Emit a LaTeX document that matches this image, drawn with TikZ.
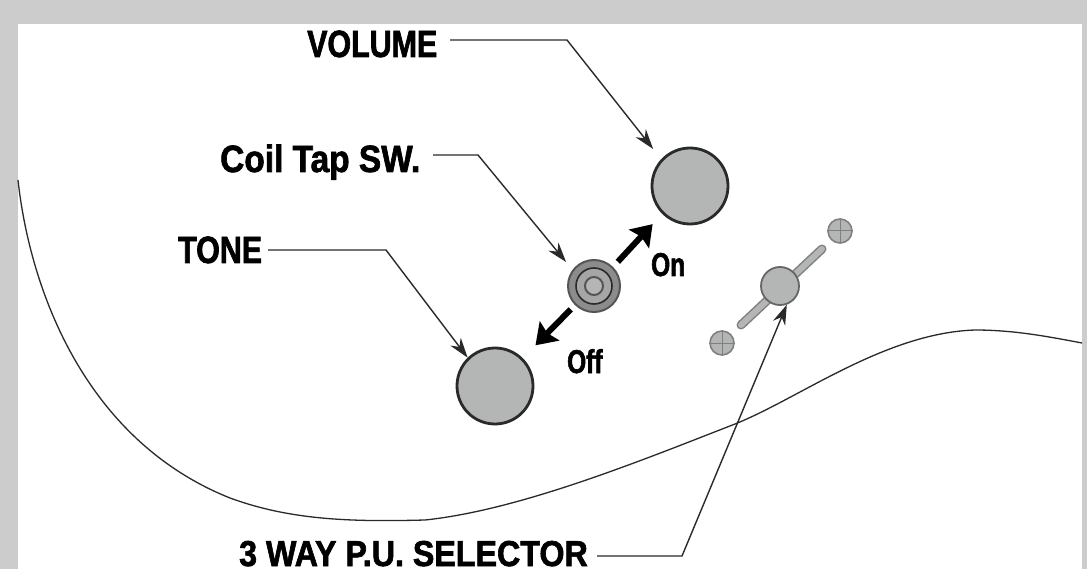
\documentclass[tikz,border=0pt]{standalone}
\usepackage{fontspec}
\setmainfont{Liberation Sans}
\newfontfamily\condfont[FakeStretch=0.80,FakeBold=1.7]{Liberation Sans Bold}
\newfontfamily\coilfont[FakeStretch=0.88,FakeBold=1.7]{Liberation Sans Bold}
\newfontfamily\wayfont[FakeStretch=0.895,FakeBold=1.7]{Liberation Sans Bold}
\newfontfamily\smallcond[FakeStretch=0.74,FakeBold=1.7]{Liberation Sans Bold}
\usetikzlibrary{arrows.meta}
\definecolor{framegrey}{HTML}{CCCCCC}
\definecolor{knobgrey}{HTML}{B4B6B6}
\definecolor{inkdark}{HTML}{2A2A2A}
\tikzset{
  x=1pt,y=-1pt,
  label text/.style={inner sep=0pt,text=black,font=\condfont\fontsize{38}{38}\selectfont,anchor=base west},
  coil text/.style={inner sep=0pt,text=black,font=\coilfont\fontsize{38}{38}\selectfont,anchor=base west},
  way text/.style={inner sep=0pt,text=black,font=\wayfont\fontsize{36}{36}\selectfont,anchor=base west},
  small text/.style={inner sep=0pt,text=black,font=\smallcond\fontsize{33}{33}\selectfont,anchor=base west},
  leader/.style={draw=inkdark,line width=1.4pt,-{Stealth[length=20pt,width=13pt]}},
  bigarrow/.style={draw=black,line width=6pt,-{Stealth[length=20pt,width=27pt,inset=3pt]}},
  knob/.style={circle,draw=inkdark,line width=2.8pt,fill=knobgrey,inner sep=0pt},
  screw/.style={circle,draw=gray,line width=1.6pt,fill=knobgrey,minimum size=24pt,inner sep=0pt},
  body line/.style={draw=inkdark,line width=1.3pt}
}
\begin{document}
\begin{tikzpicture}
\path[use as bounding box] (0,0) rectangle (1087,569);
\clip (0,0) rectangle (1087,569);
\fill[framegrey] (0,0) rectangle (1087,569);
\fill[white] (18,24) rectangle (1082,569);
% body outline
\draw[body line] (18,180) .. controls (30,290) and (85,440) .. (230,498)
  .. controls (290,520) and (350,522) .. (425,520)
  .. controls (520,510) and (640,461) .. (735,424)
  .. controls (800,398) and (885,333) .. (975,330)
  .. controls (1015,330) and (1050,337) .. (1082,343);
% controls
\node[knob,minimum size=76pt] (vol) at (690,186) {};
\node[knob,minimum size=76pt] (tone) at (495,386) {};
\node[circle,draw=inkdark!80,line width=2pt,fill=gray!90,minimum size=52pt,inner sep=0pt] (sw) at (594,286) {};
\node[circle,draw=inkdark,line width=1.6pt,fill=gray!70,minimum size=36pt,inner sep=0pt] (swmid) at (594,286) {};
\node[circle,draw=inkdark!80,line width=2pt,fill=knobgrey,minimum size=18pt,inner sep=0pt] (swin) at (594,286) {};
% selector
\coordinate (slotA) at (741,325);
\coordinate (slotB) at (822,249);
\draw[gray,line width=9pt,line cap=round] (slotA) -- (slotB);
\draw[knobgrey,line width=6pt,line cap=round] (slotA) -- (slotB);
\node[circle,draw=gray!80!black,line width=1.8pt,fill=knobgrey,minimum size=38pt,inner sep=0pt] (ball) at (780,286) {};
\node[screw] (s1) at (840,231) {};
\node[screw] (s2) at (722,343) {};
\draw[gray,line width=1pt] (s1.west) -- (s1.east) (s1.north) -- (s1.south) (s2.west) -- (s2.east) (s2.north) -- (s2.south);
% labels
\node[label text] (lv) at (307,57) {VOLUME};
\node[coil text] (lc) at (220,172) {Coil Tap SW.};
\node[label text] (lt) at (178,263) {TONE};
\node[way text] (ls) at (239,566) {3 WAY P.U. SELECTOR};
\node[small text] (lon) at (651,276) {On};
\node[small text] (loff) at (567,373) {Off};
% connectors
\coordinate (bv) at (567,40);
\coordinate (bc) at (478,155);
\coordinate (bt) at (386,250);
\coordinate (bs) at (682,556);
\coordinate (sv) at (450,40);
\coordinate (sc) at (433,155);
\coordinate (st) at (268,250);
\coordinate (ss) at (597,556);
\draw[leader,shorten >=13pt] (sv) -- (bv) -- (vol.137);
\draw[leader,shorten >=10pt] (sc) -- (bc) -- (sw.143);
\draw[leader] (st) -- (bt) -- (tone.134);
\draw[leader] (ss) -- (bs) -- (ball.290);
\draw[bigarrow,shorten <=7pt,shorten >=14pt] (sw.45) -- (vol.225);
\draw[bigarrow,shorten <=6pt,shorten >=18pt] (sw.225) -- (tone.45);
\end{tikzpicture}
\end{document}
